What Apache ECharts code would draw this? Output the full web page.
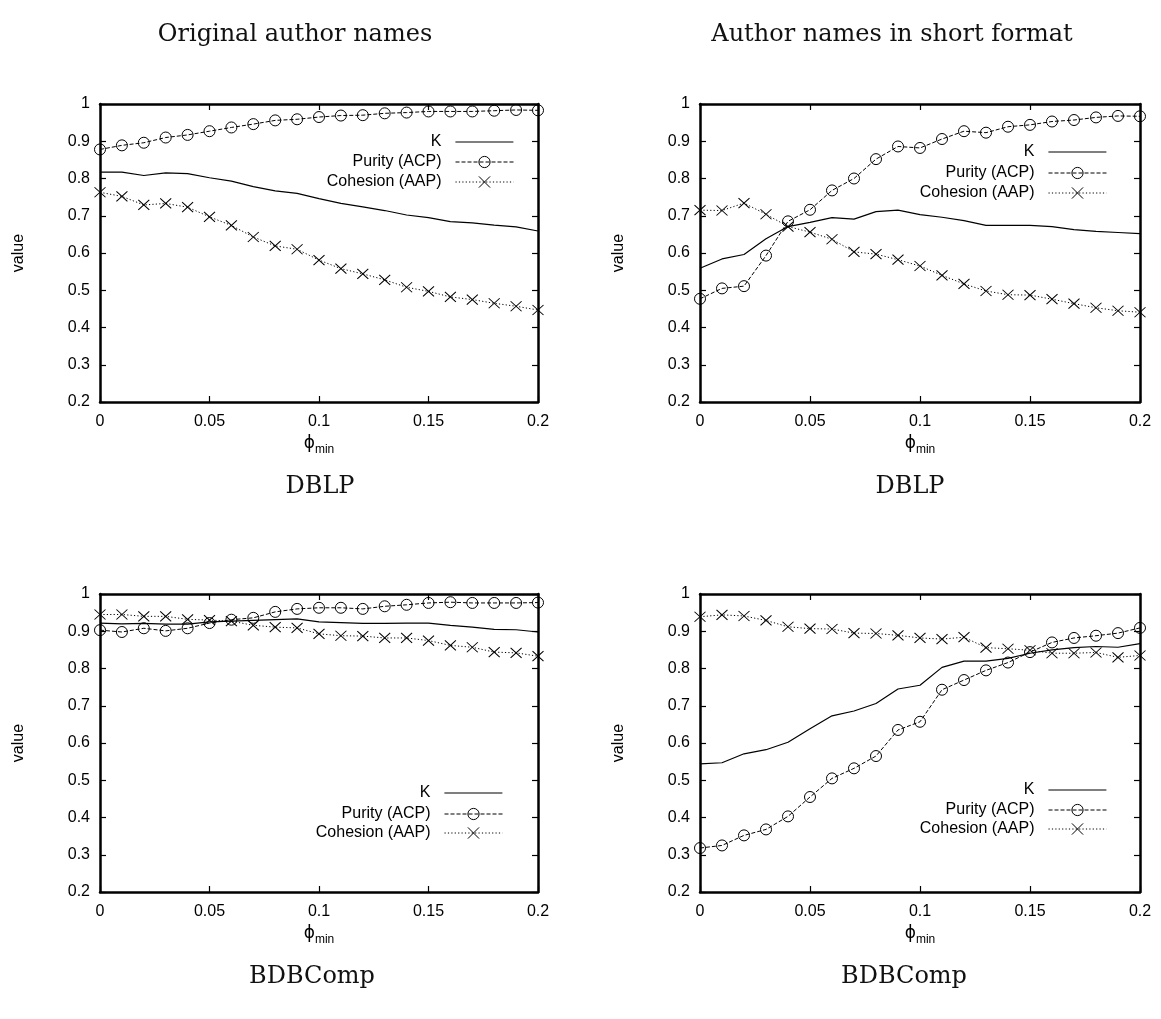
<!DOCTYPE html>
<html>
<head>
<meta charset="utf-8">
<title>K / Purity / Cohesion vs phi_min</title>
<script src="https://cdn.jsdelivr.net/npm/echarts@6/dist/echarts.min.js"></script>
<style>
  html, body { margin: 0; padding: 0; background: #fff; }
  #chart { width: 1161px; height: 1019px; }
</style>
</head>
<body>
<div id="chart"></div>
<script>
// x 轴取值 (phi_min)
const phi = [0, 0.01, 0.02, 0.03, 0.04, 0.05, 0.06, 0.07, 0.08, 0.09, 0.1,
  0.11, 0.12, 0.13, 0.14, 0.15, 0.16, 0.17, 0.18, 0.19, 0.2];
const xTicks = [0, 0.05, 0.1, 0.15, 0.2];
const yTicks = [0.2, 0.3, 0.4, 0.5, 0.6, 0.7, 0.8, 0.9, 1];
const seriesNames = ["K", "Purity (ACP)", "Cohesion (AAP)"];

// DBLP, original author names
const dblpOrigK = [0.817, 0.817, 0.808, 0.815, 0.813, 0.802, 0.793, 0.778, 0.767, 0.760, 0.746,
  0.733, 0.724, 0.714, 0.702, 0.695, 0.684, 0.681, 0.675, 0.670, 0.659];
const dblpOrigPurity = [0.878, 0.889, 0.896, 0.910, 0.917, 0.927, 0.937, 0.946, 0.956, 0.959, 0.965,
  0.969, 0.970, 0.975, 0.977, 0.980, 0.980, 0.980, 0.982, 0.984, 0.983];
const dblpOrigCohesion = [0.763, 0.752, 0.729, 0.733, 0.723, 0.697, 0.674, 0.643, 0.619, 0.610, 0.581,
  0.558, 0.544, 0.528, 0.508, 0.497, 0.482, 0.475, 0.465, 0.457, 0.447];

// DBLP, short format
const dblpShortK = [0.559, 0.584, 0.596, 0.638, 0.671, 0.682, 0.695, 0.691, 0.711, 0.715, 0.703,
  0.696, 0.687, 0.674, 0.674, 0.674, 0.671, 0.663, 0.658, 0.655, 0.652];
const dblpShortPurity = [0.477, 0.505, 0.511, 0.593, 0.685, 0.716, 0.768, 0.800, 0.852, 0.886, 0.882,
  0.906, 0.927, 0.923, 0.939, 0.944, 0.953, 0.957, 0.964, 0.968, 0.967];
const dblpShortCohesion = [0.715, 0.714, 0.734, 0.704, 0.671, 0.656, 0.637, 0.603, 0.597, 0.582, 0.565,
  0.540, 0.517, 0.498, 0.488, 0.487, 0.476, 0.464, 0.453, 0.445, 0.441];

// BDBComp, original author names
const bdbOrigK = [0.922, 0.920, 0.921, 0.919, 0.919, 0.925, 0.927, 0.929, 0.931, 0.933, 0.925,
  0.923, 0.921, 0.921, 0.922, 0.922, 0.916, 0.911, 0.905, 0.904, 0.898];
const bdbOrigPurity = [0.903, 0.898, 0.908, 0.901, 0.908, 0.922, 0.931, 0.936, 0.952, 0.960, 0.963,
  0.963, 0.960, 0.967, 0.971, 0.976, 0.978, 0.976, 0.976, 0.976, 0.977];
const bdbOrigCohesion = [0.945, 0.945, 0.940, 0.940, 0.932, 0.930, 0.927, 0.916, 0.911, 0.909, 0.893,
  0.888, 0.887, 0.882, 0.882, 0.875, 0.862, 0.857, 0.844, 0.842, 0.833];

// BDBComp, short format
const bdbShortK = [0.544, 0.547, 0.571, 0.582, 0.602, 0.638, 0.673, 0.686, 0.706, 0.745, 0.755,
  0.803, 0.820, 0.820, 0.827, 0.841, 0.850, 0.856, 0.859, 0.857, 0.867];
const bdbShortPurity = [0.318, 0.325, 0.352, 0.368, 0.403, 0.455, 0.505, 0.532, 0.565, 0.635, 0.657,
  0.743, 0.769, 0.795, 0.816, 0.844, 0.870, 0.882, 0.888, 0.895, 0.909];
const bdbShortCohesion = [0.939, 0.944, 0.941, 0.929, 0.912, 0.907, 0.906, 0.895, 0.894, 0.889, 0.882,
  0.879, 0.884, 0.856, 0.853, 0.849, 0.841, 0.841, 0.843, 0.830, 0.835];

// 四个子图: 位置 + 数据 + 图例位置
const panels = [
  { left: 100, top: 104, width: 438, height: 298, data: [dblpOrigK, dblpOrigPurity, dblpOrigCohesion],
    legendRight: 647, legendTop: [134, 154, 174] },
  { left: 700, top: 104, width: 440, height: 298, data: [dblpShortK, dblpShortPurity, dblpShortCohesion],
    legendRight: 54, legendTop: [144, 165, 185] },
  { left: 100, top: 594, width: 438, height: 298, data: [bdbOrigK, bdbOrigPurity, bdbOrigCohesion],
    legendRight: 658, legendTop: [785, 806, 825] },
  { left: 700, top: 594, width: 440, height: 298, data: [bdbShortK, bdbShortPurity, bdbShortCohesion],
    legendRight: 54, legendTop: [782, 802, 821] },
];

const FONT = "Liberation Sans";
const black = "#000";
const clear = "rgba(0,0,0,0)";

const lineStyles = [
  { color: black, width: 1.2, type: "solid" },
  { color: black, width: 1, type: [4, 2] },
  { color: black, width: 1, type: [1.2, 2.2] },
];
const symbols = [
  { symbol: "none", symbolSize: 0 },
  { symbol: "circle", symbolSize: 11 },
  { symbol: "path://M0,0L10,10M10,0L0,10", symbolSize: [11, 10] },
];
const markStyle = { color: clear, borderColor: black, borderWidth: 1 };

const axisLine = { show: true, onZero: false, lineStyle: { color: black, width: 2.5 } };
const axisTick = { show: true, inside: true, length: 6, lineStyle: { color: black, width: 1.2 } };

const grid = [], xAxis = [], yAxis = [], series = [], legend = [];

panels.forEach((p, i) => {
  grid.push({ left: p.left, top: p.top, width: p.width, height: p.height, show: false });

  const xBase = {
    gridIndex: i, type: "value", min: xTicks[0], max: xTicks[xTicks.length - 1],
    interval: xTicks[1] - xTicks[0], axisLine, axisTick, splitLine: { show: false },
  };
  xAxis.push({
    ...xBase, position: "bottom",
    axisLabel: { color: black, fontSize: 16, fontFamily: FONT, margin: 12 },
    name: "{p|ϕ}{s|min}", nameLocation: "middle", nameGap: 29,
    nameTextStyle: {
      rich: {
        p: { fontSize: 17, fontFamily: "DejaVu Sans", color: black },
        s: { fontSize: 12, fontFamily: FONT, color: black, padding: [13, 0, 0, 0] },
      },
    },
  });
  xAxis.push({ ...xBase, position: "top", axisLabel: { show: false } });

  const yBase = {
    gridIndex: i, type: "value", min: yTicks[0], max: yTicks[yTicks.length - 1],
    interval: 0.1, axisLine, axisTick, splitLine: { show: false },
  };
  yAxis.push({
    ...yBase, position: "left",
    axisLabel: { color: black, fontSize: 16, fontFamily: FONT, margin: 10 },
    name: "value", nameLocation: "middle", nameGap: 73,
    nameTextStyle: { color: black, fontSize: 16, fontFamily: FONT },
  });
  yAxis.push({ ...yBase, position: "right", axisLabel: { show: false } });

  seriesNames.forEach((name, k) => {
    series.push({
      name,
      type: "line",
      xAxisIndex: i * 2,
      yAxisIndex: i * 2,
      data: phi.map((x, j) => [x, p.data[k][j]]),
      ...symbols[k],
      showSymbol: k > 0,
      lineStyle: lineStyles[k],
      itemStyle: markStyle,
      emphasis: { disabled: true },
      silent: true,
    });

    legend.push({
      data: [name],
      orient: "vertical",
      right: p.legendRight,
      top: p.legendTop[k],
      align: "right",
      padding: 0,
      itemWidth: 58,
      itemHeight: 14,
      selectedMode: false,
      lineStyle: lineStyles[k],
      // K 只画线, 不画符号
      itemStyle: k === 0 ? { color: clear, borderColor: clear, borderWidth: 0 } : markStyle,
      textStyle: { color: black, fontSize: 16, fontFamily: FONT, padding: [0, 9, 0, 0] },
    });
  });
});

const serif = '24px "DejaVu Serif"';
const caption = (text, x, y) => ({
  type: "text", x, y,
  style: { text, font: serif, fill: "#111", align: "center", verticalAlign: "middle" },
});

const options = {
  animation: false,
  backgroundColor: "#fff",
  grid, xAxis, yAxis, series, legend,
  graphic: [
    caption("Original author names", 295, 35),
    caption("Author names in short format", 892, 35),
    caption("DBLP", 320, 487),
    caption("DBLP", 910, 487),
    caption("BDBComp", 312, 977),
    caption("BDBComp", 904, 977),
  ],
};

const chart = echarts.init(document.getElementById("chart"));
chart.setOption(options);
window.addEventListener("resize", () => chart.resize());
</script>
</body>
</html>
